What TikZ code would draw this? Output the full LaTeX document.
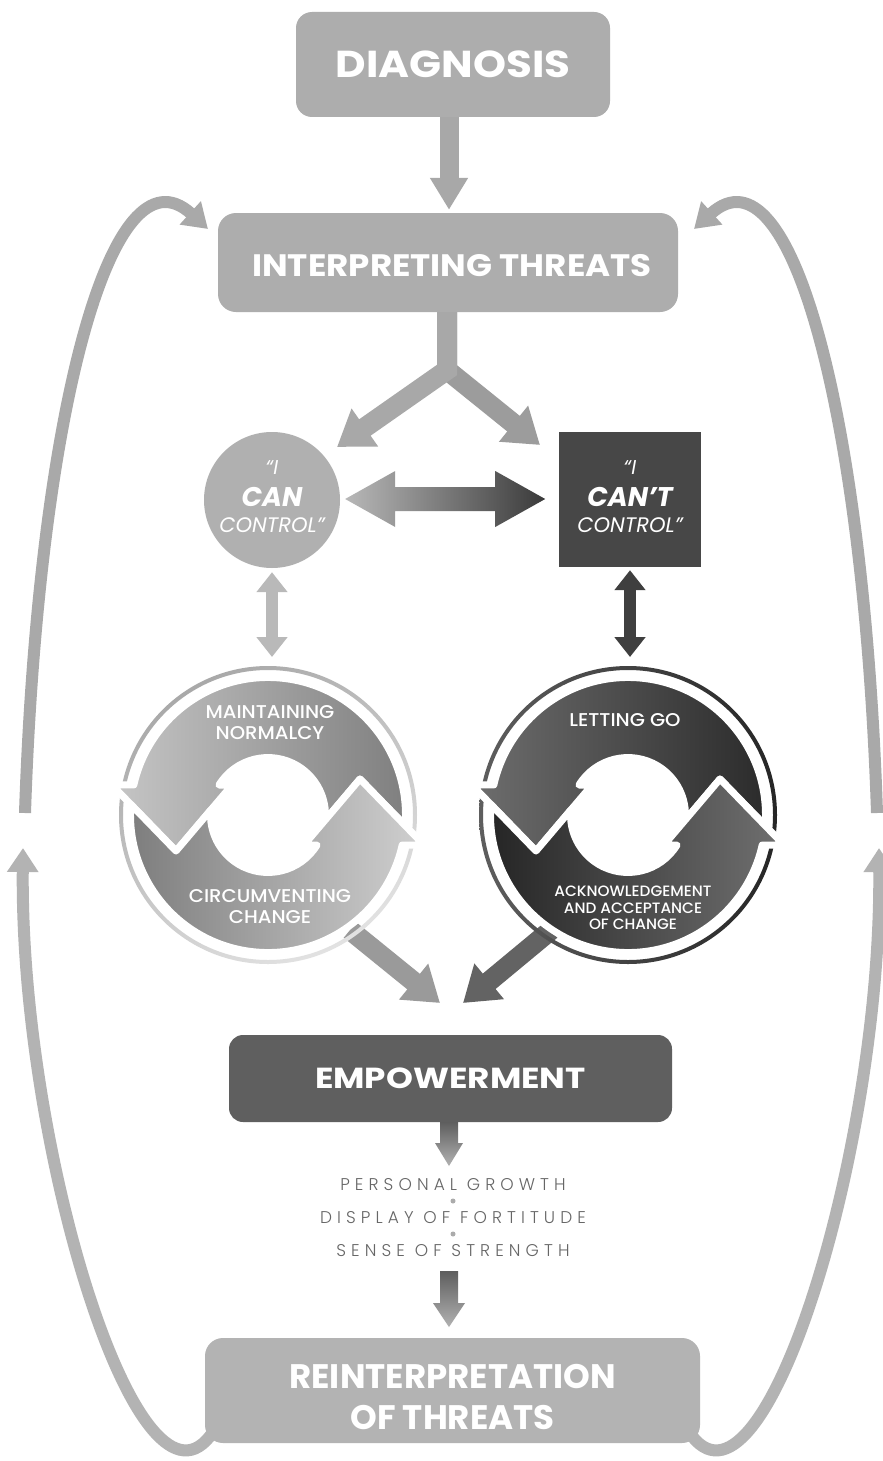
\documentclass[tikz,border=0pt]{standalone}
\usepackage{fontspec}
\setmainfont{Poppins}
\newfontfamily\popmed{Poppins Medium}
\newfontfamily\poplight{Poppins Light}
\usetikzlibrary{arrows.meta,calc}
\definecolor{gA}{HTML}{ADADAD}
\definecolor{gArrow}{HTML}{A8A8A8}
\definecolor{gForkR}{HTML}{9C9C9C}
\definecolor{gLoop}{HTML}{A9A9A9}
\definecolor{gLoopB}{HTML}{B3B3B3}
\definecolor{gCan}{HTML}{B0B0B0}
\definecolor{gCanV}{HTML}{B9B9B9}
\definecolor{gCant}{HTML}{474747}
\definecolor{gCantV}{HTML}{3F3F3F}
\definecolor{gHL}{HTML}{B8B8B8}
\definecolor{gHR}{HTML}{3A3A3A}
\definecolor{lRingT}{HTML}{A9A9A9}
\definecolor{lRingB}{HTML}{E2E2E2}
\definecolor{lTopL}{HTML}{C6C6C6}
\definecolor{lTopR}{HTML}{7E7E7E}
\definecolor{lBotL}{HTML}{7C7C7C}
\definecolor{lBotR}{HTML}{D0D0D0}
\definecolor{rRingL}{HTML}{5E5E5E}
\definecolor{rRingR}{HTML}{262626}
\definecolor{rTopL}{HTML}{6E6E6E}
\definecolor{rTopR}{HTML}{2A2A2A}
\definecolor{rBotL}{HTML}{242424}
\definecolor{rBotR}{HTML}{707070}
\definecolor{gDiagL}{HTML}{9A9A9A}
\definecolor{gDiagR}{HTML}{636363}
\definecolor{gEmp}{HTML}{5F5F5F}
\definecolor{gSmT}{HTML}{5E5E5E}
\definecolor{gSmB}{HTML}{B2B2B2}
\definecolor{gText}{HTML}{666666}
\definecolor{gDot}{HTML}{ABABAB}
\definecolor{gReint}{HTML}{B3B3B3}
\newcommand{\cycTop}{(137.1,-10.5) arc[start angle=-4.4, end angle=167.4, radius=137.5] -- (-156,30) -- (-92,-36) -- (-36,30) -- (-49.05,30) arc[start angle=148.5, end angle=-4.9, radius=57.5] -- (92,36) -- cycle}
\newcommand{\cycBot}{(-137.1,10.5) arc[start angle=175.6, end angle=347.4, radius=137.5] -- (156,-30) -- (92,36) -- (36,-30) -- (49.05,-30) arc[start angle=-31.5, end angle=-184.9, radius=57.5] -- (-92,-36) -- cycle}
\begin{document}
\begin{tikzpicture}[x=1pt,y=-1pt,
  box/.style={rounded corners=16pt, text=white, align=center, inner sep=0pt},
  loopline/.style={line width=12pt, draw=#1, -{Triangle[width=30pt,length=24pt]}},
  fatarrow/.style={line width=20pt, draw=#1, line join=miter, -{Triangle[width=44pt,length=34pt]}},
  vdouble/.style={line width=12pt, draw=#1, {Triangle[width=30pt,length=20pt]}-{Triangle[width=30pt,length=20pt]}},
  whitetext/.style={text=white, inner sep=0pt, align=center},
  listtext/.style={text=gText, inner sep=0pt, font=\poplight\fontsize{17}{17}\selectfont\addfontfeature{LetterSpace=30}},
  cyc/.style={draw=white, line width=7pt, line join=round}
]
\useasboundingbox (0,0) rectangle (883,1461);
\fill[white] (0,0) rectangle (883,1461);

% outer loops
\coordinate (lt0) at (25,813); \coordinate (lt1) at (208,229);
\coordinate (lb0) at (213,1432); \coordinate (lb1) at (23,848);
\coordinate (rt0) at (877,813); \coordinate (rt1) at (694,229);
\coordinate (rb0) at (689,1432); \coordinate (rb1) at (879,848);
\draw[loopline=gLoop] (lt0) .. controls (38,420) and (110,140) .. (lt1);
\draw[loopline=gLoop] (rt0) .. controls (864,420) and (792,140) .. (rt1);
\draw[loopline=gLoopB] (lb0) .. controls (140,1540) and (20,1150) .. (lb1);
\draw[loopline=gLoopB] (rb0) .. controls (762,1540) and (882,1150) .. (rb1);

% top boxes
\node[box, fill=gA, minimum width=314pt, minimum height=105pt, font=\bfseries\fontsize{37.5}{37.5}\selectfont\addfontfeature{FakeStretch=1.12}] (diag) at (453,64.5) {DIAGNOSIS};
\node[box, fill=gA, rounded corners=18pt, minimum width=460pt, minimum height=99pt] (it) at (448,262.5) {};
\node[whitetext, font=\bfseries\fontsize{31}{31}\selectfont\addfontfeature{FakeStretch=1.1}] (itT) at (452,266) {INTERPRETING THREATS};
\draw[line width=19pt, draw=gArrow, -{Triangle[width=36pt,length=32pt]}] (diag.south -| 449,0) -- ([yshift=3pt]it.north -| 449,0);

% fork
\coordinate (fork) at (447,370);
\coordinate (forkL) at (337,447);
\coordinate (forkR) at (540,445);
\draw[fatarrow=gForkR] (it.south -| fork) -- (fork) -- (forkR);
\draw[fatarrow=gArrow] (it.south -| fork) -- (fork) -- (forkL);

% control nodes
\node[circle, fill=gCan, minimum size=136pt, inner sep=0pt] (can) at (272,500) {};
\node[whitetext, font=\itshape\fontsize{20}{20}\selectfont] (can1) at (272,468) {“I};
\node[whitetext, font=\bfseries\itshape\fontsize{27}{27}\selectfont] (can2) at (272,497) {CAN};
\node[whitetext, font=\itshape\fontsize{21}{21}\selectfont] (can3) at (272,525) {CONTROL”};
\node[fill=gCant, minimum width=142pt, minimum height=135pt, inner sep=0pt] (cant) at (630,499.5) {};
\node[whitetext, font=\itshape\fontsize{20}{20}\selectfont] (cant1) at (630,468) {“I};
\node[whitetext, font=\bfseries\itshape\fontsize{27}{27}\selectfont] (cant2) at (630,497) {CAN’T};
\node[whitetext, font=\itshape\fontsize{21}{21}\selectfont] (cant3) at (630,525) {CONTROL”};

% horizontal double arrow
\coordinate (hA) at ($(can.east)+(5,-1)$);
\shade[left color=gHL, right color=gHR] (hA) -- ++(50,-28) -- ++(0,16) -- ++(100,0) -- ++(0,-16) -- ++(50,28) -- ++(-50,28) -- ++(0,-16) -- ++(-100,0) -- ++(0,16) -- cycle;

% vertical double arrows
\coordinate (lcTop) at (272,657);
\coordinate (rcTop) at (630,657);
\draw[vdouble=gCanV] ([yshift=-4pt]can.south) -- (lcTop);
\draw[vdouble=gCantV] ([yshift=-3pt]cant.south) -- (rcTop);

% arrows to empowerment
\coordinate (lcOut) at (350,930); \coordinate (empL) at (440,1003);
\coordinate (rcOut) at (551,930); \coordinate (empR) at (463,1003);
\draw[fatarrow=gDiagL] (lcOut) -- (empL);
\draw[fatarrow=gDiagR] (rcOut) -- (empR);

% cycles
\coordinate (lcyc) at (268,815);
\coordinate (rcyc) at (628,815);
\begin{scope}[shift={(lcyc)}, yscale=-1]
  \shade[even odd rule, top color=lRingT, bottom color=lRingB, shading angle=30] (0,0) circle[radius=149] (0,0) circle[radius=145];
  \shadedraw[left color=lTopL, right color=lTopR, cyc] \cycTop;
  \shadedraw[left color=lBotL, right color=lBotR, cyc] \cycBot;
\end{scope}
\begin{scope}[shift={(rcyc)}, yscale=-1]
  \shade[even odd rule, left color=rRingL, right color=rRingR] (0,0) circle[radius=149] (0,0) circle[radius=145];
  \shadedraw[left color=rTopL, right color=rTopR, cyc] \cycTop;
  \shadedraw[left color=rBotL, right color=rBotR, cyc] \cycBot;
\end{scope}
\node[whitetext, font=\popmed\fontsize{18.5}{21}\selectfont\addfontfeature{FakeStretch=1.06}] (mn) at (270,722.5) {MAINTAINING\\NORMALCY};
\node[whitetext, font=\popmed\fontsize{18.5}{21}\selectfont\addfontfeature{FakeStretch=1.06}] (cc) at (270,907) {CIRCUMVENTING\\CHANGE};
\node[whitetext, font=\popmed\fontsize{18.5}{21}\selectfont\addfontfeature{FakeStretch=1.06}] (lg) at (625,720) {LETTING GO};
\node[whitetext, font=\popmed\fontsize{15}{16.5}\selectfont\addfontfeature{FakeStretch=1.02}] (ack) at (633,908) {ACKNOWLEDGEMENT\\AND ACCEPTANCE\\OF CHANGE};

% empowerment
\node[box, fill=gEmp, rounded corners=14pt, minimum width=443pt, minimum height=87pt, font=\bfseries\fontsize{29}{29}\selectfont\addfontfeature{FakeStretch=1.18}] (emp) at (450.5,1078.5) {EMPOWERMENT};
\coordinate (eA) at (449,1122);
\shade[top color=gSmT, bottom color=gSmB] ($(eA)+(-9,0)$) -- ++(18,0) -- ++(0,21) -- ++(5,0) -- ++(-14,23) -- ++(-14,-23) -- ++(5,0) -- cycle;

% list
\node[listtext] (p1) at (453,1185) {PERSONAL GROWTH};
\node[listtext] (p2) at (453,1218) {DISPLAY OF FORTITUDE};
\node[listtext] (p3) at (453,1251) {SENSE OF STRENGTH};
\fill[gDot] (453,1201) circle[radius=2.5];
\fill[gDot] (453,1234) circle[radius=2.5];
\coordinate (sA) at (449,1271);
\shade[top color=gSmT, bottom color=gSmB] ($(sA)+(-9,0)$) -- ++(18,0) -- ++(0,32) -- ++(7,0) -- ++(-16,24) -- ++(-16,-24) -- ++(7,0) -- cycle;

% reinterpretation
\node[box, fill=gReint, rounded corners=18pt, minimum width=495pt, minimum height=105pt] (reint) at (452.5,1390.5) {};
\node[whitetext, font=\bfseries\fontsize{34}{41}\selectfont] (reintT) at (452.5,1396.5) {REINTERPRETATION\\OF THREATS};
\end{tikzpicture}
\end{document}
